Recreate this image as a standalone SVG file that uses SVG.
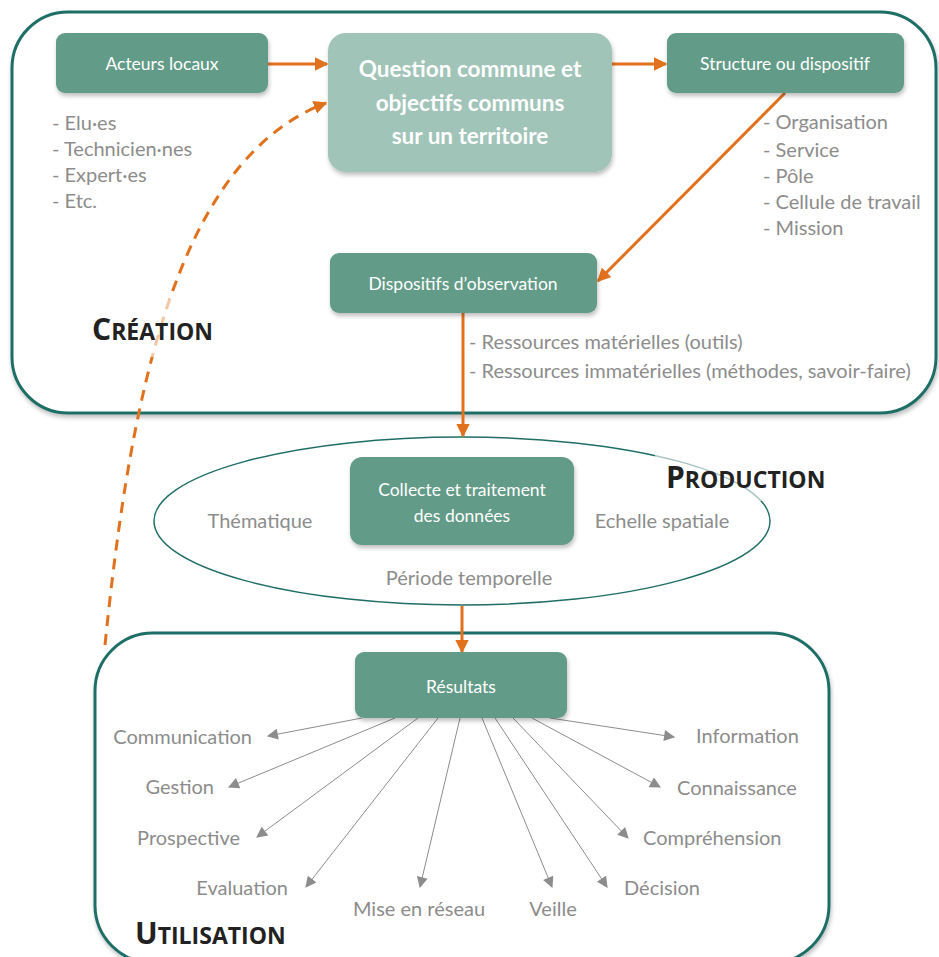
<svg xmlns="http://www.w3.org/2000/svg" width="939" height="957" viewBox="0 0 939 957">
<defs>
<style>
.frame{fill:#fff;stroke:#1f6e66;stroke-width:3}
.box{fill:#629b87}
.boxq{fill:#a1c4b8}
.wt{fill:#fff;font-family:Lato,"Open Sans",sans-serif;font-size:17.5px;text-anchor:middle}
.qt{fill:#fff;font-family:Lato,"Open Sans",sans-serif;font-size:22.5px;font-weight:bold;text-anchor:middle}
.gt{fill:#8c8c8c;font-family:Lato,"Open Sans",sans-serif;font-size:20px}
.lbl{fill:#222;font-family:"Open Sans",Lato,sans-serif;font-weight:bold}
.or{stroke:#e2711d;stroke-width:3;fill:none}
.gr{stroke:#8c8c8c;stroke-width:1;fill:none}
</style>
<filter id="sh" x="-10%" y="-10%" width="120%" height="130%">
<feDropShadow dx="1" dy="3" stdDeviation="2" flood-color="#000" flood-opacity="0.25"/>
</filter>
<marker id="ao" viewBox="0 0 10 10" refX="9" refY="5" markerWidth="4.5" markerHeight="4.5" orient="auto" markerUnits="strokeWidth">
<path d="M0,0 L10,5 L0,10 z" fill="#e2711d"/>
</marker>
<marker id="ag" viewBox="0 0 10 10" refX="9" refY="5" markerWidth="13" markerHeight="11" orient="auto" markerUnits="userSpaceOnUse">
<path d="M0,0 L10,5 L0,10 z" fill="#8c8c8c"/>
</marker>
</defs>

<g id="frame-creation">
<rect class="frame" x="12" y="12" width="924" height="401" rx="56" filter="url(#sh)"/>
</g>
<g id="frame-production">
<ellipse cx="462" cy="521" rx="308" ry="84" fill="#fff" stroke="#1f6e66" stroke-width="1.5"/>
</g>
<g id="frame-utilisation">
<rect class="frame" x="95" y="633" width="734" height="330" rx="58" filter="url(#sh)"/>
</g>

<g id="connectors">
<line class="or" x1="268" y1="64" x2="327" y2="64" marker-end="url(#ao)"/>
<line class="or" x1="612" y1="64" x2="666" y2="64" marker-end="url(#ao)"/>
<line class="or" x1="785" y1="93" x2="598" y2="281" marker-end="url(#ao)"/>
<line class="or" x1="463" y1="313" x2="463" y2="436" marker-end="url(#ao)"/>
<line class="or" x1="462" y1="606" x2="462" y2="652" marker-end="url(#ao)"/>
<path class="or" d="M105,645 C130,400 175,160 326,103" stroke-dasharray="11,8" marker-end="url(#ao)"/>
<line class="gr" x1="362" y1="718" x2="268" y2="736" marker-end="url(#ag)"/>
<line class="gr" x1="395" y1="718" x2="229" y2="787" marker-end="url(#ag)"/>
<line class="gr" x1="418" y1="718" x2="257" y2="837" marker-end="url(#ag)"/>
<line class="gr" x1="438" y1="718" x2="306" y2="887" marker-end="url(#ag)"/>
<line class="gr" x1="460" y1="718" x2="420" y2="887" marker-end="url(#ag)"/>
<line class="gr" x1="482" y1="718" x2="552" y2="887" marker-end="url(#ag)"/>
<line class="gr" x1="495" y1="718" x2="607" y2="887" marker-end="url(#ag)"/>
<line class="gr" x1="513" y1="718" x2="628" y2="838" marker-end="url(#ag)"/>
<line class="gr" x1="532" y1="718" x2="660" y2="787" marker-end="url(#ag)"/>
<line class="gr" x1="550" y1="718" x2="674" y2="737" marker-end="url(#ag)"/>
</g>

<g id="acteurs">
<rect class="box" x="56" y="33" width="212" height="60" rx="9" filter="url(#sh)"/>
<text class="wt" x="162" y="70">Acteurs locaux</text>
</g>
<g id="acteurs-list">
<text class="gt" x="52" y="130">- Elu·es</text>
<text class="gt" x="52" y="156">- Technicien·nes</text>
<text class="gt" x="52" y="182">- Expert·es</text>
<text class="gt" x="52" y="208">- Etc.</text>
</g>
<g id="question">
<rect class="boxq" x="328" y="33" width="284" height="139" rx="18" filter="url(#sh)"/>
<text class="qt" x="470" y="77">Question commune et</text>
<text class="qt" x="470" y="111">objectifs communs</text>
<text class="qt" x="470" y="144">sur un territoire</text>
</g>
<g id="structure">
<rect class="box" x="667" y="33" width="237" height="60" rx="9" filter="url(#sh)"/>
<text class="wt" x="785" y="70">Structure ou dispositif</text>
</g>
<g id="structure-list">
<text class="gt" x="763" y="129">- Organisation</text>
<text class="gt" x="763" y="157">- Service</text>
<text class="gt" x="763" y="183">- Pôle</text>
<text class="gt" x="763" y="209">- Cellule de travail</text>
<text class="gt" x="763" y="235">- Mission</text>
</g>
<g id="dispositifs">
<rect class="box" x="330" y="253" width="267" height="60" rx="9" filter="url(#sh)"/>
<text class="wt" x="463" y="290">Dispositifs d’observation</text>
</g>
<g id="ressources">
<text class="gt" x="469" y="349">- Ressources matérielles (outils)</text>
<text class="gt" x="469" y="378">- Ressources immatérielles (méthodes, savoir-faire)</text>
</g>
<g id="label-creation">
<rect x="78" y="299" width="154" height="58" fill="#fff" fill-opacity="0.6"/>
<text class="lbl" x="92" y="340"><tspan font-size="30">C</tspan><tspan font-size="23">RÉATION</tspan></text>
</g>

<g id="collecte">
<rect class="box" x="350" y="457" width="224" height="88" rx="12" filter="url(#sh)"/>
<text class="wt" x="462" y="496">Collecte et traitement</text>
<text class="wt" x="462" y="522">des données</text>
</g>
<g id="production-attrs">
<text class="gt" x="260" y="528" text-anchor="middle">Thématique</text>
<text class="gt" x="662" y="528" text-anchor="middle">Echelle spatiale</text>
<text class="gt" x="469" y="585" text-anchor="middle">Période temporelle</text>
</g>
<g id="label-production">
<rect x="655" y="455" width="186" height="46" fill="#fff" fill-opacity="0.6"/>
<text class="lbl" x="666" y="488"><tspan font-size="30">P</tspan><tspan font-size="23">RODUCTION</tspan></text>
</g>

<g id="resultats">
<rect class="box" x="355" y="652" width="212" height="66" rx="9" filter="url(#sh)"/>
<text class="wt" x="461" y="693">Résultats</text>
</g>
<g id="uses">
<text class="gt" x="252" y="744" text-anchor="end">Communication</text>
<text class="gt" x="214" y="794" text-anchor="end">Gestion</text>
<text class="gt" x="240" y="845" text-anchor="end">Prospective</text>
<text class="gt" x="288" y="895" text-anchor="end">Evaluation</text>
<text class="gt" x="419" y="916" text-anchor="middle">Mise en réseau</text>
<text class="gt" x="553" y="916" text-anchor="middle">Veille</text>
<text class="gt" x="624" y="895">Décision</text>
<text class="gt" x="643" y="845">Compréhension</text>
<text class="gt" x="677" y="795">Connaissance</text>
<text class="gt" x="696" y="743">Information</text>
</g>
<g id="label-utilisation">
<text class="lbl" x="135" y="944"><tspan font-size="30">U</tspan><tspan font-size="23">TILISATION</tspan></text>
</g>
</svg>
